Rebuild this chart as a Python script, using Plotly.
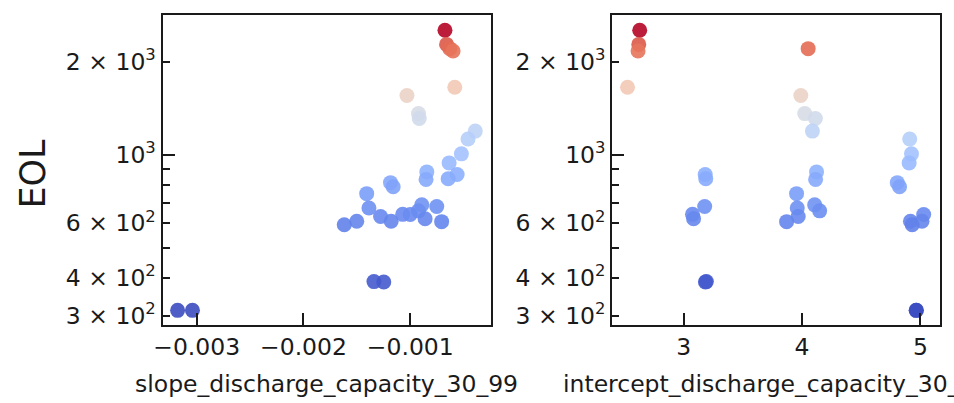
import plotly.graph_objects as go

# Cycle life (EOL) of each cell with its two discharge-capacity features
eol = [2532, 2279, 2208, 2169, 1656, 1556, 1360, 1311, 1193, 1125, 1007, 941,
       880, 863, 836, 832, 812, 788, 748, 688, 680, 672, 658, 641, 640, 631,
       620, 609, 609, 607, 593, 388, 387, 313, 313]

slope_discharge_capacity_30_99 = [
    -0.000675, -0.000660, -0.000629, -0.000599, -0.000583, -0.001031, -0.000923,
    -0.000916, -0.000391, -0.000459, -0.000521, -0.000636, -0.000845, -0.000561,
    -0.000645, -0.000852, -0.001185, -0.001160, -0.001408, -0.000892, -0.000752,
    -0.001387, -0.000923, -0.001071, -0.001000, -0.001278, -0.000861, -0.001501,
    -0.001179, -0.000706, -0.001618, -0.001340, -0.001248, -0.003179, -0.003040]

intercept_discharge_capacity_30_99 = [
    2.629, 2.621, 4.052, 2.615, 2.526, 3.990, 4.023, 4.113, 4.088, 4.910, 4.925,
    4.905, 4.123, 3.182, 3.187, 4.115, 4.805, 4.824, 3.954, 4.107, 3.178, 3.960,
    4.149, 3.075, 5.028, 3.968, 3.084, 4.916, 5.014, 3.870, 4.931, 3.192, 3.184,
    4.964, 4.967]

slope_ticks = [-0.003, -0.002, -0.001]
slope_ticktext = ["\u22120.003", "\u22120.002", "\u22120.001"]
intercept_ticks = [3, 4, 5]
eol_ticks = [300, 400, 500, 600, 700, 800, 900, 1000, 2000]
eol_ticktext = ["3 \u00d7 10<sup>2</sup>", "4 \u00d7 10<sup>2</sup>", "",
                "6 \u00d7 10<sup>2</sup>", "", "", "", "10<sup>3</sup>",
                "2 \u00d7 10<sup>3</sup>"]

# Smooth cool-warm diverging colour map
_cw = [(59, 76, 192), (68, 90, 204), (77, 104, 215), (87, 117, 225), (98, 130, 234),
       (108, 142, 241), (119, 154, 247), (130, 165, 251), (141, 176, 254),
       (152, 185, 255), (163, 194, 255), (174, 201, 253), (184, 208, 249),
       (194, 213, 244), (204, 217, 238), (213, 219, 230), (221, 221, 221),
       (229, 216, 209), (236, 211, 197), (241, 204, 185), (245, 196, 173),
       (247, 187, 160), (247, 177, 148), (247, 166, 135), (244, 154, 123),
       (241, 141, 111), (236, 127, 99), (229, 112, 88), (222, 96, 77),
       (213, 80, 66), (203, 62, 56), (192, 40, 47), (180, 4, 38)]
coolwarm = [[i / (len(_cw) - 1), "rgb(%d,%d,%d)" % c] for i, c in enumerate(_cw)]

FONT = "DejaVu Sans"
INK = "#1a1a1a"
FS = 23.5

marker = dict(size=15, color=eol, colorscale=coolwarm, cmin=min(eol), cmax=max(eol),
              opacity=0.9, line=dict(width=0))

fig = go.Figure()
fig.add_trace(go.Scatter(x=slope_discharge_capacity_30_99, y=eol, mode="markers",
                         marker=marker, xaxis="x", yaxis="y", showlegend=False))
fig.add_trace(go.Scatter(x=intercept_discharge_capacity_30_99, y=eol, mode="markers",
                         marker=marker, xaxis="x2", yaxis="y2", showlegend=False))

W, H = 954, 403
ydom = [1 - 329 / H, 1 - 15 / H]

common = dict(showline=True, mirror=True, linecolor=INK, linewidth=2,
              ticks="inside", tickcolor=INK, tickwidth=1.6, showgrid=False,
              zeroline=False, tickfont=dict(family=FONT, size=FS, color=INK))

yaxis_cfg = dict(common, type="log", range=[2.4484, 3.4537], tickmode="array",
                 tickvals=eol_ticks, ticktext=eol_ticktext, ticklen=7,
                 minor=dict(tickmode="array", tickvals=[1000], ticklen=12,
                            ticks="inside", tickcolor=INK, tickwidth=1.6))

fig.update_layout(
    width=W, height=H,
    margin=dict(l=0, r=0, t=0, b=0),
    paper_bgcolor="white", plot_bgcolor="white",
    xaxis=dict(common, domain=[155 / W, 487 / W], range=[-0.00332, -0.00024],
               tickmode="array", tickvals=slope_ticks, ticktext=slope_ticktext,
               ticklen=12, anchor="y"),
    yaxis=dict(yaxis_cfg, domain=ydom, anchor="x"),
    xaxis2=dict(common, domain=[609 / W, 940 / W], range=[2.397, 5.167],
                tickmode="array", tickvals=intercept_ticks, ticklen=12, anchor="y2"),
    yaxis2=dict(yaxis_cfg, domain=ydom, anchor="x2"),
    annotations=[
        dict(text="EOL", textangle=-90, x=24 / W, y=1 - 176 / H, xref="paper",
             yref="paper", showarrow=False, xanchor="center", yanchor="middle",
             font=dict(family=FONT, size=35, color=INK)),
        dict(text="slope_discharge_capacity_30_99", x=321 / W, y=1 - 389 / H,
             xref="paper", yref="paper", showarrow=False, xanchor="center",
             yanchor="middle", font=dict(family=FONT, size=FS, color=INK)),
        dict(text="intercept_discharge_capacity_30_99", x=774.5 / W, y=1 - 389 / H,
             xref="paper", yref="paper", showarrow=False, xanchor="center",
             yanchor="middle", font=dict(family=FONT, size=FS, color=INK)),
    ],
)

fig.write_html("out.html")
